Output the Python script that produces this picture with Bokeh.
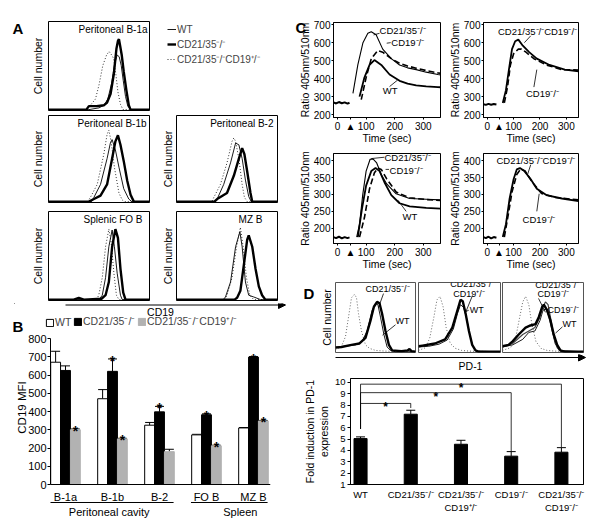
import math
from bokeh.plotting import figure
from bokeh.layouts import row, column
from bokeh.models import (Range1d, FixedTicker, Legend, LegendItem, Label, Span,
                          Whisker, ColumnDataSource, Arrow, NormalHead, TeeHead)
from bokeh.embed import file_html
from bokeh.resources import INLINE
from bokeh.core.properties import value

try:
    from bokeh.core.enums import CoordinateUnits
    CANVAS_OK = "canvas" in CoordinateUnits
except Exception:
    CANVAS_OK = False
CANVAS_Y_DOWN = True

FONT = "Liberation Sans"
KO = "CD21/35⁻/⁻"
HET = "CD21/35⁻/⁻CD19⁺/⁻"
CD19KO = "CD19⁻/⁻"
DKO = "CD21/35⁻/⁻CD19⁻/⁻"
DOT = "1 2"

# ================= Panel A : CD19 histograms (x = log10 fluorescence, y = relative count)
A_TITLES = ["Peritoneal B-1a", "Peritoneal B-1b", "Peritoneal B-2", "Splenic FO B", "MZ B"]

A1_WT_X = [0.0, 1.6, 2.0, 2.2, 2.35, 2.5, 2.62, 2.72, 2.8, 2.88, 2.96, 3.05, 3.14, 3.25, 4.0]
A1_WT_Y = [0.0, 0.0, 0.02, 0.05, 0.12, 0.3, 0.52, 0.62, 0.6, 0.5, 0.33, 0.15, 0.04, 0.0, 0.0]
A1_KO_X = [0.0, 1.5, 1.6, 1.9, 2.2, 2.32, 2.46, 2.59, 2.69, 2.75, 2.79, 2.84, 2.9, 2.98, 3.09, 3.18, 3.25, 4.0]
A1_KO_Y = [0.0, 0.0, 0.04, 0.04, 0.05, 0.08, 0.18, 0.41, 0.69, 0.78, 0.8, 0.72, 0.62, 0.43, 0.21, 0.05, 0.0, 0.0]
A1_HET_X = [0.0, 1.5, 1.66, 1.86, 2.0, 2.15, 2.3, 2.4, 2.5, 2.58, 2.66, 2.75, 2.85, 2.95, 4.0]
A1_HET_Y = [0.0, 0.0, 0.05, 0.12, 0.28, 0.5, 0.62, 0.66, 0.62, 0.58, 0.42, 0.2, 0.06, 0.0, 0.0]

A2_WT_X = [0.0, 1.7, 1.8, 2.06, 2.32, 2.45, 2.52, 2.65, 2.79, 2.98, 3.18, 3.3, 4.0]
A2_WT_Y = [0.0, 0.0, 0.05, 0.2, 0.5, 0.68, 0.72, 0.6, 0.4, 0.15, 0.03, 0.0, 0.0]
A2_KO_X = [0.0, 1.6, 1.8, 2.06, 2.32, 2.52, 2.65, 2.75, 2.85, 2.98, 3.12, 3.25, 3.38, 4.0]
A2_KO_Y = [0.0, 0.0, 0.03, 0.07, 0.2, 0.5, 0.7, 0.77, 0.66, 0.47, 0.24, 0.08, 0.0, 0.0]
A2_HET_X = [0.0, 1.55, 1.66, 1.93, 2.19, 2.32, 2.39, 2.48, 2.61, 2.79, 2.92, 3.0, 4.0]
A2_HET_Y = [0.0, 0.0, 0.05, 0.2, 0.55, 0.78, 0.83, 0.7, 0.4, 0.1, 0.02, 0.0, 0.0]

A3_WT_X = [0.0, 1.5, 1.61, 1.87, 2.14, 2.34, 2.47, 2.6, 2.73, 2.86, 2.96, 4.0]
A3_WT_Y = [0.0, 0.0, 0.03, 0.2, 0.45, 0.68, 0.66, 0.5, 0.25, 0.06, 0.0, 0.0]
A3_KO_X = [0.0, 1.5, 1.61, 2.0, 2.27, 2.47, 2.6, 2.69, 2.8, 2.93, 3.0, 4.0]
A3_KO_Y = [0.0, 0.0, 0.03, 0.1, 0.3, 0.5, 0.62, 0.55, 0.35, 0.1, 0.0, 0.0]
A3_HET_X = [0.0, 1.4, 1.48, 1.74, 2.0, 2.2, 2.27, 2.34, 2.47, 2.6, 2.69, 2.8, 4.0]
A3_HET_Y = [0.0, 0.0, 0.05, 0.2, 0.45, 0.7, 0.74, 0.7, 0.5, 0.2, 0.05, 0.0, 0.0]

A4_WT_X = [0.0, 2.0, 2.13, 2.26, 2.39, 2.52, 2.61, 2.72, 2.85, 2.92, 4.0]
A4_WT_Y = [0.0, 0.0, 0.05, 0.25, 0.6, 0.79, 0.6, 0.3, 0.05, 0.0, 0.0]
A4_KO_X = [0.0, 1.0, 1.2, 1.4, 2.1, 2.26, 2.39, 2.52, 2.65, 2.75, 2.85, 2.96, 3.05, 4.0]
A4_KO_Y = [0.0, 0.0, 0.02, 0.0, 0.01, 0.05, 0.2, 0.6, 0.8, 0.7, 0.35, 0.08, 0.0, 0.0]
A4_HET_X = [0.0, 1.9, 1.99, 2.13, 2.26, 2.39, 2.48, 2.59, 2.69, 2.79, 4.0]
A4_HET_Y = [0.0, 0.0, 0.05, 0.25, 0.6, 0.8, 0.65, 0.3, 0.05, 0.0, 0.0]

A5_WT_X = [0.0, 1.85, 1.94, 2.14, 2.34, 2.51, 2.6, 2.73, 2.86, 3.06, 3.33, 4.0]
A5_WT_Y = [0.0, 0.0, 0.03, 0.2, 0.6, 0.77, 0.6, 0.2, 0.05, 0.03, 0.0, 0.0]
A5_KO_X = [0.0, 2.3, 2.4, 2.53, 2.67, 2.8, 2.86, 3.0, 3.13, 3.26, 3.39, 3.52, 4.0]
A5_KO_Y = [0.0, 0.0, 0.02, 0.1, 0.4, 0.68, 0.73, 0.6, 0.35, 0.15, 0.05, 0.0, 0.0]
A5_HET_X = [0.0, 1.9, 2.0, 2.2, 2.38, 2.53, 2.64, 2.77, 2.9, 3.06, 4.0]
A5_HET_Y = [0.0, 0.0, 0.05, 0.25, 0.6, 0.82, 0.6, 0.25, 0.05, 0.0, 0.0]

# ================= Panel B : CD19 MFI
B_GROUPS = ["B-1a", "B-1b", "B-2", "FO B", "MZ B"]
B_WT = [670, 470, 325, 272, 310]
B_WT_ERR = [60, 50, 15, 3, 2]
B_KO = [625, 620, 398, 382, 698]
B_KO_ERR = [25, 68, 30, 5, 3]
B_HET = [300, 250, 180, 212, 348]
B_HET_ERR = [4, 3, 13, 3, 3]
B_STAR_KO = [False, True, True, True, True]
B_STAR_HET = [True, True, False, True, True]
B_REGIONS = ["Peritoneal cavity", "Spleen"]
B_REGION_GROUPS = [(0, 2), (3, 4)]
B_YTICKS = [0, 100, 200, 300, 400, 500, 600, 700, 800]

# ================= Panel C : calcium traces (time s, ratio 405/510)
C_TIME_TICKS = [0, 100, 200, 300]
C_STIM = 45
C1_PRE_T = [-14, -5, 5, 15, 25, 35, 42]
C1_PRE_V = [268, 262, 270, 263, 268, 261, 266]
C1_KO_T = [54, 71, 89, 106, 118, 135, 158, 188, 217, 245, 275, 310, 351, 360]
C1_KO_V = [318, 476, 600, 652, 661, 644, 564, 511, 476, 460, 450, 436, 423, 421]
C1_CD19_T = [83, 100, 118, 141, 158, 188, 217, 245, 275, 310, 351, 360]
C1_CD19_V = [283, 406, 511, 556, 547, 511, 485, 470, 458, 445, 432, 430]
C1_WT_T = [77, 94, 112, 129, 153, 182, 217, 245, 275, 310, 351, 360]
C1_WT_V = [300, 406, 476, 503, 476, 423, 388, 372, 362, 357, 353, 352]

C2_PRE_T = [-14, -5, 5, 15, 25, 35]
C2_PRE_V = [258, 254, 260, 255, 259, 256]
C2_DKO_T = [59, 71, 85, 94, 106, 118, 135, 159, 188, 236, 294, 346]
C2_DKO_V = [265, 336, 476, 564, 608, 617, 583, 547, 511, 476, 450, 441]
C2_CD19_T = [65, 77, 88, 100, 118, 130, 147, 177, 224, 283, 346]
C2_CD19_V = [265, 353, 476, 538, 564, 564, 547, 511, 476, 450, 448]

C3_PRE_T = [-14, -5, 5, 15, 25, 35, 42]
C3_PRE_V = [174, 171, 175, 170, 174, 171, 173]
C3_KO_T = [67, 77, 88, 100, 114, 124, 137, 153, 172, 205, 252, 310, 360]
C3_KO_V = [174, 212, 298, 369, 404, 405, 393, 359, 331, 302, 288, 286, 284]
C3_CD19_T = [77, 94, 112, 129, 141, 153, 172, 205, 252, 310, 360]
C3_CD19_V = [174, 231, 317, 364, 378, 374, 346, 307, 290, 285, 282]
C3_WT_T = [71, 86, 100, 118, 133, 147, 164, 188, 217, 252, 310, 360]
C3_WT_V = [174, 260, 326, 369, 378, 369, 336, 298, 274, 265, 260, 258]

C4_PRE_T = [-14, -5, 5, 15, 25, 35]
C4_PRE_V = [174, 171, 175, 170, 174, 172]
C4_DKO_T = [59, 71, 85, 100, 112, 124, 141, 165, 188, 224, 283, 346]
C4_DKO_V = [174, 212, 288, 345, 374, 378, 369, 345, 317, 298, 288, 280]
C4_CD19_T = [65, 80, 94, 112, 127, 144, 171, 206, 259, 346]
C4_CD19_V = [174, 241, 307, 359, 375, 369, 336, 303, 291, 284]

# ================= Panel D : PD-1 histograms + fold induction
D1_ISO_X = [0.0, 0.3, 0.5, 0.65, 0.8, 0.95, 1.05, 1.15, 1.3, 1.5, 1.7, 2.0, 2.5, 4.0]
D1_ISO_Y = [0.03, 0.08, 0.22, 0.5, 0.78, 0.83, 0.78, 0.55, 0.3, 0.1, 0.05, 0.02, 0.01, 0.0]
D1_KO_X = [0.0, 0.3, 0.8, 1.2, 1.5, 1.75, 1.92, 2.08, 2.2, 2.33, 2.5, 2.67, 2.83, 3.3, 3.6, 3.7, 3.8, 4.0]
D1_KO_Y = [0.06, 0.07, 0.1, 0.12, 0.2, 0.45, 0.65, 0.72, 0.7, 0.55, 0.3, 0.1, 0.02, 0.01, 0.02, 0.04, 0.01, 0.0]
D1_WT_X = [0.0, 0.5, 1.0, 1.33, 1.58, 1.83, 2.0, 2.12, 2.25, 2.42, 2.58, 2.75, 3.0, 4.0]
D1_WT_Y = [0.07, 0.08, 0.1, 0.15, 0.3, 0.6, 0.7, 0.68, 0.5, 0.25, 0.07, 0.02, 0.0, 0.0]

D2_ISO_X = [0.0, 0.35, 0.55, 0.75, 0.9, 1.05, 1.2, 1.35, 1.55, 1.8, 2.1, 2.5, 4.0]
D2_ISO_Y = [0.02, 0.06, 0.2, 0.5, 0.75, 0.8, 0.65, 0.35, 0.12, 0.05, 0.02, 0.01, 0.0]
D2_HET_X = [0.0, 0.2, 0.8, 1.3, 1.65, 1.9, 2.05, 2.16, 2.3, 2.46, 2.62, 2.78, 2.95, 4.0]
D2_HET_Y = [0.08, 0.09, 0.12, 0.18, 0.35, 0.6, 0.75, 0.73, 0.55, 0.3, 0.1, 0.02, 0.0, 0.0]
D2_WT_X = [0.0, 0.5, 1.0, 1.4, 1.7, 1.9, 2.05, 2.2, 2.35, 2.5, 2.65, 2.8, 4.0]
D2_WT_Y = [0.07, 0.08, 0.11, 0.17, 0.33, 0.55, 0.68, 0.64, 0.48, 0.25, 0.08, 0.01, 0.0]

D3_ISO_X = [0.0, 0.4, 0.65, 0.85, 1.0, 1.14, 1.3, 1.45, 1.65, 1.9, 2.2, 2.6, 4.0]
D3_ISO_Y = [0.02, 0.06, 0.2, 0.5, 0.72, 0.8, 0.68, 0.4, 0.15, 0.05, 0.02, 0.01, 0.0]
D3_DKO_X = [0.0, 0.3, 0.5, 0.8, 1.14, 1.38, 1.63, 1.79, 1.96, 2.04, 2.2, 2.37, 2.53, 2.7, 2.86, 3.1, 4.0]
D3_DKO_Y = [0.08, 0.1, 0.15, 0.25, 0.35, 0.38, 0.4, 0.5, 0.65, 0.68, 0.6, 0.45, 0.25, 0.1, 0.02, 0.0, 0.0]
D3_CD19_X = [0.0, 0.5, 1.0, 1.3, 1.6, 1.85, 2.0, 2.12, 2.25, 2.4, 2.55, 2.7, 2.9, 4.0]
D3_CD19_Y = [0.07, 0.12, 0.25, 0.3, 0.35, 0.5, 0.65, 0.72, 0.68, 0.45, 0.2, 0.06, 0.0, 0.0]
D3_WT_X = [0.0, 0.5, 1.0, 1.3, 1.6, 1.85, 2.0, 2.15, 2.3, 2.45, 2.6, 2.8, 4.0]
D3_WT_Y = [0.07, 0.1, 0.18, 0.28, 0.3, 0.45, 0.6, 0.62, 0.5, 0.3, 0.12, 0.02, 0.0]

D_GENOTYPES = ["WT", KO, "CD21/35⁻/⁻\nCD19⁺/⁻", CD19KO, "CD21/35⁻/⁻\nCD19⁻/⁻"]
D_FOLD = [5.05, 7.2, 4.55, 3.5, 3.85]
D_FOLD_ERR = [0.15, 0.35, 0.35, 0.4, 0.4]
D_YTICKS = [1, 2, 3, 4, 5, 6, 7, 8, 9, 10]
# significance brackets: (from, to, bracket height, drop end)
D_BRACKETS = [(0, 1, 8.15, 7.75), (0, 3, 9.1, 3.95), (0, 4, 9.85, 4.3)]
D_BRACKET_BASE = 5.9


def no_align(p):
    try:
        p.frame_align = False
    except Exception:
        pass
    return p


def base_fig(w, h, l, r, t, b, xr, yr, outline=True):
    p = figure(width=w, height=h, x_range=xr, y_range=yr, output_backend="svg",
               toolbar_location=None, min_border_left=l, min_border_right=r,
               min_border_top=t, min_border_bottom=b)
    no_align(p)
    p.xgrid.visible = False
    p.ygrid.visible = False
    p.outline_line_color = "black" if outline else None
    p.border_fill_color = "white"
    p.background_fill_color = "white"
    for ax in p.axis:
        ax.axis_line_color = "black"
        ax.major_tick_line_color = "black"
        ax.minor_tick_line_color = "black"
        ax.major_label_text_font = FONT
        ax.axis_label_text_font = FONT
        ax.axis_label_text_font_style = "normal"
        ax.major_label_text_color = "black"
        ax.axis_label_text_color = "black"
    return p


def blank_fig(w, h, xr, yr, left=0):
    p = figure(width=w, height=h, x_range=xr, y_range=yr, output_backend="svg",
               toolbar_location=None, min_border=0, min_border_left=left)
    no_align(p)
    p.axis.visible = False
    p.grid.visible = False
    p.outline_line_color = None
    p.border_fill_color = "white"
    return p


def txt(p, xs, ys, texts, size="9.5px", align="left", baseline="middle", **kw):
    return p.text(x=xs, y=ys, text=texts, text_font=value(FONT), text_font_size=size,
                  text_align=align, text_baseline=baseline, text_color="black", **kw)


def clab(p, side, x, y, text, size="10.5px", bold=False, align="left",
         baseline="alphabetic", angle=0.0):
    """Label placed in a side panel, positioned in canvas pixels (y from top)."""
    if CANVAS_OK:
        yy = y if CANVAS_Y_DOWN else p.height - y
        lbl = Label(x=x, y=yy, x_units="canvas", y_units="canvas")
    else:
        lbl = Label(x=x, y=p.height - y, x_units="screen", y_units="screen")
    lbl.text = text
    lbl.text_font = FONT
    lbl.text_font_size = size
    lbl.text_font_style = "bold" if bold else "normal"
    lbl.text_align = align
    lbl.text_baseline = baseline
    lbl.angle = angle
    lbl.text_color = "black"
    p.add_layout(lbl, side)


def small_legend(p, items, loc, size="10px", gw=9, gh=14, lh=14):
    lg = Legend(items=[LegendItem(label=l, renderers=[r]) for l, r in items], location=loc)
    lg.border_line_color = None
    lg.background_fill_alpha = 0
    lg.padding = 0
    lg.margin = 0
    lg.spacing = 1
    lg.glyph_width = gw
    lg.glyph_height = gh
    lg.label_height = lh
    lg.label_standoff = 1
    lg.label_text_font = FONT
    lg.label_text_font_size = size
    p.add_layout(lg)
    return lg


def hist_fig(w, h, l, r, t, b):
    p = base_fig(w, h, l, r, t, b, Range1d(0, 4), Range1d(-0.01, 1.0))
    p.xaxis.visible = False
    p.yaxis.visible = False
    return p


def cell_label(p, cx):
    clab(p, "left", cx, p.min_border_top + (p.height - p.min_border_top - p.min_border_bottom) / 2,
         "Cell number", align="center", baseline="middle", angle=math.pi / 2)


def hist_lines(p, wt, ko, other):
    r_ot = p.line(other[0], other[1], line_color="#333333", line_width=1.0, line_dash=DOT)
    r_wt = p.line(wt[0], wt[1], line_color="black", line_width=0.9)
    r_ko = p.line(ko[0], ko[1], line_color="black", line_width=2.4)
    return r_wt, r_ko, r_ot


def hist_title(p, text, dx):
    txt(p, [4], [1.0], [text], size="10px", align="right", baseline="top",
        x_offset=-dx, y_offset=2)


def leaders(p, x0, y0, x1, y1):
    p.segment(x0=x0, y0=y0, x1=x1, y1=y1, line_color="black", line_width=0.8)


# ---------------- Panel A
pA1 = hist_fig(160, 113, 48, 11, 21, 3)
hist_lines(pA1, (A1_WT_X, A1_WT_Y), (A1_KO_X, A1_KO_Y), (A1_HET_X, A1_HET_Y))
hist_title(pA1, A_TITLES[0], 2)
clab(pA1, "left", 12, 28, "A", size="15px", bold=True)
cell_label(pA1, 37)

# legend strip for panel A (swatch renderers sit outside the visible range)
pLegA = blank_fig(135, 113, Range1d(0, 1), Range1d(0, 1))
la_wt = pLegA.line(x=[-1], y=[-1], line_color="black", line_width=0.9)
la_ko = pLegA.line(x=[-1], y=[-1], line_color="black", line_width=2.4)
la_het = pLegA.line(x=[-1], y=[-1], line_color="#333333", line_width=1.0, line_dash=DOT)
small_legend(pLegA, [("WT", la_wt), (KO, la_ko), (HET, la_het)], (7, 47))

pA2 = hist_fig(160, 94, 48, 11, 2, 5)
hist_lines(pA2, (A2_WT_X, A2_WT_Y), (A2_KO_X, A2_KO_Y), (A2_HET_X, A2_HET_Y))
hist_title(pA2, A_TITLES[1], 3)
cell_label(pA2, 37)
pA3 = hist_fig(135, 94, 16, 18, 2, 5)
hist_lines(pA3, (A3_WT_X, A3_WT_Y), (A3_KO_X, A3_KO_Y), (A3_HET_X, A3_HET_Y))
hist_title(pA3, A_TITLES[2], 4)
cell_label(pA3, 7)
pA4 = hist_fig(160, 96, 48, 11, 4, 3)
hist_lines(pA4, (A4_WT_X, A4_WT_Y), (A4_KO_X, A4_KO_Y), (A4_HET_X, A4_HET_Y))
hist_title(pA4, A_TITLES[3], 7)
cell_label(pA4, 37)
pA5 = hist_fig(135, 96, 16, 18, 4, 3)
hist_lines(pA5, (A5_WT_X, A5_WT_Y), (A5_KO_X, A5_KO_Y), (A5_HET_X, A5_HET_Y))
hist_title(pA5, A_TITLES[4], 15)
cell_label(pA5, 7)

# ---------------- header strip: CD19 axis arrow, "B" letter, B legend
HEAD_LEFT = 14
pHeadB = blank_fig(295, 30, Range1d(HEAD_LEFT, 295), Range1d(333, 303), left=HEAD_LEFT)
pHeadB.add_layout(Arrow(end=NormalHead(size=7, fill_color="black", line_color="black", line_width=1),
                        x_start=65, y_start=304.5, x_end=285, y_end=304.5,
                        line_width=1, line_color="black"))
txt(pHeadB, [160], [311.5], ["CD19"], size="10.5px", align="center", baseline="middle")
clab(pHeadB, "left", 12, 23, "B", size="15px", bold=True)
lb_wt = pHeadB.vbar(x=[-100], top=[0], width=1, fill_color="white", line_color="black")
lb_ko = pHeadB.vbar(x=[-100], top=[0], width=1, fill_color="black", line_color="black")
lb_het = pHeadB.vbar(x=[-100], top=[0], width=1, fill_color="#b2b2b2", line_color="#b2b2b2")
for rend, name, x0 in ((lb_wt, "WT", 45), (lb_ko, KO, 73), (lb_het, HET, 137)):
    small_legend(pHeadB, [(name, rend)], (x0 - HEAD_LEFT, 5), size="10.5px", gw=9, gh=9, lh=11)

# ---------------- Panel B bar chart
B_UNITS_PER_PX = 800 / 146.0
pB = base_fig(295, 192, 50, 25, 0, 0, Range1d(-0.319, 4.362),
              Range1d(-41 * B_UNITS_PER_PX, 800 + 5 * B_UNITS_PER_PX), outline=False)
pB.xaxis.visible = False
pB.yaxis.bounds = (0, 800)
pB.yaxis.ticker = FixedTicker(ticks=B_YTICKS)
pB.yaxis.major_label_text_font_size = "11px"
pB.yaxis.major_tick_out = 3
pB.yaxis.major_tick_in = 0
pB.yaxis.minor_tick_out = 0
pB.yaxis.major_label_standoff = 1
BW = 0.21
gidx = list(range(len(B_GROUPS)))
srcB = ColumnDataSource(dict(
    xw=[g - BW for g in gidx], xk=list(gidx), xh=[g + BW for g in gidx],
    wt=B_WT, ko=B_KO, het=B_HET,
    wtu=[v + e for v, e in zip(B_WT, B_WT_ERR)],
    kou=[v + e for v, e in zip(B_KO, B_KO_ERR)],
    hetu=[v + e for v, e in zip(B_HET, B_HET_ERR)]))
pB.vbar(x="xw", top="wt", bottom=0, width=BW, source=srcB, fill_color="white",
        line_color="black", line_width=1)
pB.vbar(x="xk", top="ko", bottom=0, width=BW, source=srcB, fill_color="black",
        line_color="black", line_width=1)
pB.vbar(x="xh", top="het", bottom=0, width=BW, source=srcB, fill_color="#b2b2b2",
        line_color="#b2b2b2", line_width=1)
for base, up, lo in (("xw", "wtu", "wt"), ("xk", "kou", "ko"), ("xh", "hetu", "het")):
    pB.add_layout(Whisker(source=srcB, base=base, upper=up, lower=lo, dimension="height",
                          upper_head=TeeHead(size=9, line_width=1, line_color="black"),
                          lower_head=None, line_width=1, line_color="black"))
pB.add_layout(Span(location=0, dimension="width", line_color="black", line_width=1))
star_x = [g for g, s in zip(gidx, B_STAR_KO) if s] + [g + BW for g, s in zip(gidx, B_STAR_HET) if s]
star_y = [v + e for v, e, s in zip(B_KO, B_KO_ERR, B_STAR_KO) if s] + \
         [v + e for v, e, s in zip(B_HET, B_HET_ERR, B_STAR_HET) if s]
pB.text(x=star_x, y=star_y, text=["*"] * len(star_x), text_font=value(FONT),
        text_font_size="14px", text_font_style="bold", text_align="center",
        text_baseline="alphabetic", y_offset=2, text_color="black")
txt(pB, gidx, [0] * len(gidx), B_GROUPS, size="11px", align="center", baseline="top", y_offset=6)
under_y = -18 * B_UNITS_PER_PX
pB.segment(x0=[a - 0.33 for a, b in B_REGION_GROUPS], x1=[b + 0.3 for a, b in B_REGION_GROUPS],
           y0=[under_y] * 2, y1=[under_y] * 2, line_color="black", line_width=1)
txt(pB, [0.93, 3.72], [under_y] * 2, B_REGIONS, size="11px", align="center", baseline="top",
    y_offset=3)
clab(pB, "left", 21, 74, "CD19 MFI", size="11.5px", align="center", baseline="middle",
     angle=math.pi / 2)


# ---------------- Panel C
def ca_fig(w, h, l, r, t, b, xr, yr, yticks):
    p = base_fig(w, h, l, r, t, b, Range1d(*xr), Range1d(*yr))
    p.xaxis.ticker = FixedTicker(ticks=[0, C_STIM, 100, 200, 300])
    p.xaxis.major_label_overrides = {C_STIM: "▲"}
    p.yaxis.ticker = FixedTicker(ticks=yticks)
    for ax in p.axis:
        ax.major_label_text_font_size = "10px"
        ax.major_tick_out = 2
        ax.major_tick_in = 0
        ax.minor_tick_out = 0
        ax.minor_tick_in = 0
        ax.major_label_standoff = 1
    p.yaxis.axis_label = "Ratio 405nm/510nm"
    p.yaxis.axis_label_text_font_size = "10.5px"
    p.yaxis.axis_label_standoff = 0
    p.xaxis.axis_label = "Time (sec)"
    p.xaxis.axis_label_text_font_size = "10.5px"
    p.xaxis.axis_label_standoff = -3
    return p


def ca_lines(p, pre, traces):
    p.line(pre[0], pre[1], line_color="black", line_width=2.0)
    for t, v, style in traces:
        if style == "thin":
            p.line(t, v, line_color="black", line_width=1.1)
        elif style == "dash":
            p.line(t, v, line_color="black", line_width=1.6, line_dash="6 3")
        else:
            p.line(t, v, line_color="black", line_width=1.8)


C_LEFT_X = (-14, 360)
C_RIGHT_X = (-14, 346)
C_TOP_Y = (184, 712)
C_BOT_Y = (155, 421)

pC1 = ca_fig(150, 146, 38, 5, 22, 24, C_LEFT_X, C_TOP_Y, [200, 300, 400, 500, 600, 700])
ca_lines(pC1, (C1_PRE_T, C1_PRE_V), [(C1_WT_T, C1_WT_V, "thick"), (C1_CD19_T, C1_CD19_V, "dash"),
                                      (C1_KO_T, C1_KO_V, "thin")])
txt(pC1, [147, 188, 158], [670, 600, 336], [KO, CD19KO, "WT"])
leaders(pC1, [147, 172, 182], [652, 597, 356], [126, 186, 210], [643, 600, 392])
clab(pC1, "above", 0, 27, "C", size="15px", bold=True)

pC2 = ca_fig(156, 146, 31, 23, 22, 24, C_RIGHT_X, C_TOP_Y, [200, 300, 400, 500, 600, 700])
ca_lines(pC2, (C2_PRE_T, C2_PRE_V), [(C2_CD19_T, C2_CD19_V, "dash"), (C2_DKO_T, C2_DKO_V, "thick")])
txt(pC2, [41, 147], [661, 318], [DKO, CD19KO])
leaders(pC2, [165, 177], [638, 353], [141, 188], [600, 450])

pC3 = ca_fig(150, 126, 38, 5, 7, 25, C_LEFT_X, C_BOT_Y, [200, 250, 300, 350, 400])
ca_lines(pC3, (C3_PRE_T, C3_PRE_V), [(C3_WT_T, C3_WT_V, "thick"), (C3_CD19_T, C3_CD19_V, "dash"),
                                      (C3_KO_T, C3_KO_V, "thin")])
txt(pC3, [164, 182, 227], [409, 371, 234], [KO, CD19KO, "WT"])
leaders(pC3, [164, 168, 240], [410, 374, 250], [118, 180, 211], [406, 374, 283])

pC4 = ca_fig(156, 126, 31, 23, 7, 25, C_RIGHT_X, C_BOT_Y, [200, 250, 300, 350, 400])
ca_lines(pC4, (C4_PRE_T, C4_PRE_V), [(C4_CD19_T, C4_CD19_V, "dash"), (C4_DKO_T, C4_DKO_V, "thick")])
txt(pC4, [35, 134], [399, 226], [DKO, CD19KO])
leaders(pC4, [165, 188], [388, 250], [153, 197], [359, 302])

# ---------------- Panel D histograms
pD1 = hist_fig(121, 82, 40, 1, 10, 2)
pD1.outline_line_color = "#555555"
pD1.line(D1_ISO_X, D1_ISO_Y, line_color="#666666", line_width=1.0, line_dash=DOT)
pD1.line(D1_WT_X, D1_WT_Y, line_color="black", line_width=0.9)
pD1.line(D1_KO_X, D1_KO_Y, line_color="black", line_width=2.4)
txt(pD1, [1.5, 3.0], [0.91, 0.44], [KO, "WT"], size="9px")
leaders(pD1, [2.4, 3.0], [0.84, 0.39], [2.15, 2.35], [0.64, 0.24])
clab(pD1, "left", 8, 21, "D", size="15px", bold=True)
cell_label(pD1, 31)

pD2 = hist_fig(85, 82, 2, 1, 10, 2)
pD2.outline_line_color = "#555555"
pD2.line(D2_ISO_X, D2_ISO_Y, line_color="#666666", line_width=1.0, line_dash=DOT)
pD2.line(D2_WT_X, D2_WT_Y, line_color="black", line_width=0.9)
pD2.line(D2_HET_X, D2_HET_Y, line_color="black", line_width=2.4)
txt(pD2, [1.55, 1.7, 2.5], [0.98, 0.83, 0.6], [KO, "CD19⁺/⁻", "WT"], size="9px")
leaders(pD2, [2.63, 2.45], [0.81, 0.6], [2.3, 2.3], [0.57, 0.58])

pD3 = hist_fig(100, 82, 1, 18, 10, 2)
pD3.outline_line_color = "#555555"
pD3.line(D3_ISO_X, D3_ISO_Y, line_color="#666666", line_width=1.0, line_dash=DOT)
pD3.line(D3_WT_X, D3_WT_Y, line_color="black", line_width=0.9)
pD3.line(D3_CD19_X, D3_CD19_Y, line_color="#444444", line_width=1.2)
pD3.line(D3_DKO_X, D3_DKO_Y, line_color="black", line_width=2.4)
txt(pD3, [1.62, 1.73, 2.22, 2.96], [0.96, 0.84, 0.61, 0.4], [KO, CD19KO, CD19KO, "WT"], size="9px")
leaders(pD3, [1.78, 2.96], [0.77, 0.36], [2.12, 2.62], [0.57, 0.27])

pPD = blank_fig(306, 18, Range1d(295, 601), Range1d(372, 354))
pPD.add_layout(Arrow(end=NormalHead(size=7, fill_color="black", line_color="black", line_width=1),
                     x_start=335, y_start=357, x_end=585, y_end=357, line_width=1, line_color="black"))
txt(pPD, [470], [365], ["PD-1"], size="10.5px", align="center", baseline="middle")

# ---------------- Panel D fold induction
pD4 = base_fig(306, 153, 55, 18, 6, 41, Range1d(-0.2, 4.44), Range1d(1, 10.35))
pD4.xaxis.ticker = FixedTicker(ticks=list(range(len(D_GENOTYPES))))
pD4.xaxis.major_label_overrides = {i: g for i, g in enumerate(D_GENOTYPES)}
pD4.xaxis.major_tick_out = 0
pD4.xaxis.major_tick_in = 0
pD4.xaxis.minor_tick_out = 0
pD4.xaxis.major_label_standoff = 4
pD4.xaxis.major_label_text_font_size = "9.5px"
pD4.yaxis.ticker = FixedTicker(ticks=D_YTICKS)
pD4.yaxis.major_tick_out = 3
pD4.yaxis.major_tick_in = 0
pD4.yaxis.minor_tick_out = 0
pD4.yaxis.major_label_standoff = 2
pD4.yaxis.major_label_text_font_size = "9.5px"
pD4.yaxis.axis_label = "Fold induction in PD-1\nexpression"
pD4.yaxis.axis_label_text_font_size = "10.5px"
pD4.yaxis.axis_label_standoff = 2
didx = list(range(len(D_GENOTYPES)))
srcD = ColumnDataSource(dict(x=didx, top=D_FOLD, up=[v + e for v, e in zip(D_FOLD, D_FOLD_ERR)]))
pD4.vbar(x="x", top="top", bottom=0, width=0.26, source=srcD, fill_color="black", line_color="black")
pD4.add_layout(Whisker(source=srcD, base="x", upper="up", lower="top", dimension="height",
                       upper_head=TeeHead(size=9, line_width=1, line_color="black"),
                       lower_head=None, line_width=1, line_color="black"))
pD4.multi_line(xs=[[a, a, b, b] for a, b, h, e in D_BRACKETS],
               ys=[[D_BRACKET_BASE, h, h, e] for a, b, h, e in D_BRACKETS],
               line_color="black", line_width=0.8)
pD4.text(x=[(a + b) / 2 for a, b, h, e in D_BRACKETS], y=[h for a, b, h, e in D_BRACKETS],
         text=["*"] * len(D_BRACKETS), text_font=value(FONT), text_font_size="12px",
         text_font_style="bold", text_align="center", text_baseline="alphabetic", y_offset=4,
         text_color="black")

# every plot sits in its own row so that frames are not aligned across the column
left = column(row(pA1, pLegA), row(pA2, pA3), row(pA4, pA5), row(pHeadB), row(pB))
right = column(row(pC1, pC2), row(pC3, pC4), row(pD1, pD2, pD3), row(pPD), row(pD4))
layout = row(left, right)

open("out.html", "w").write(file_html(layout, INLINE))
